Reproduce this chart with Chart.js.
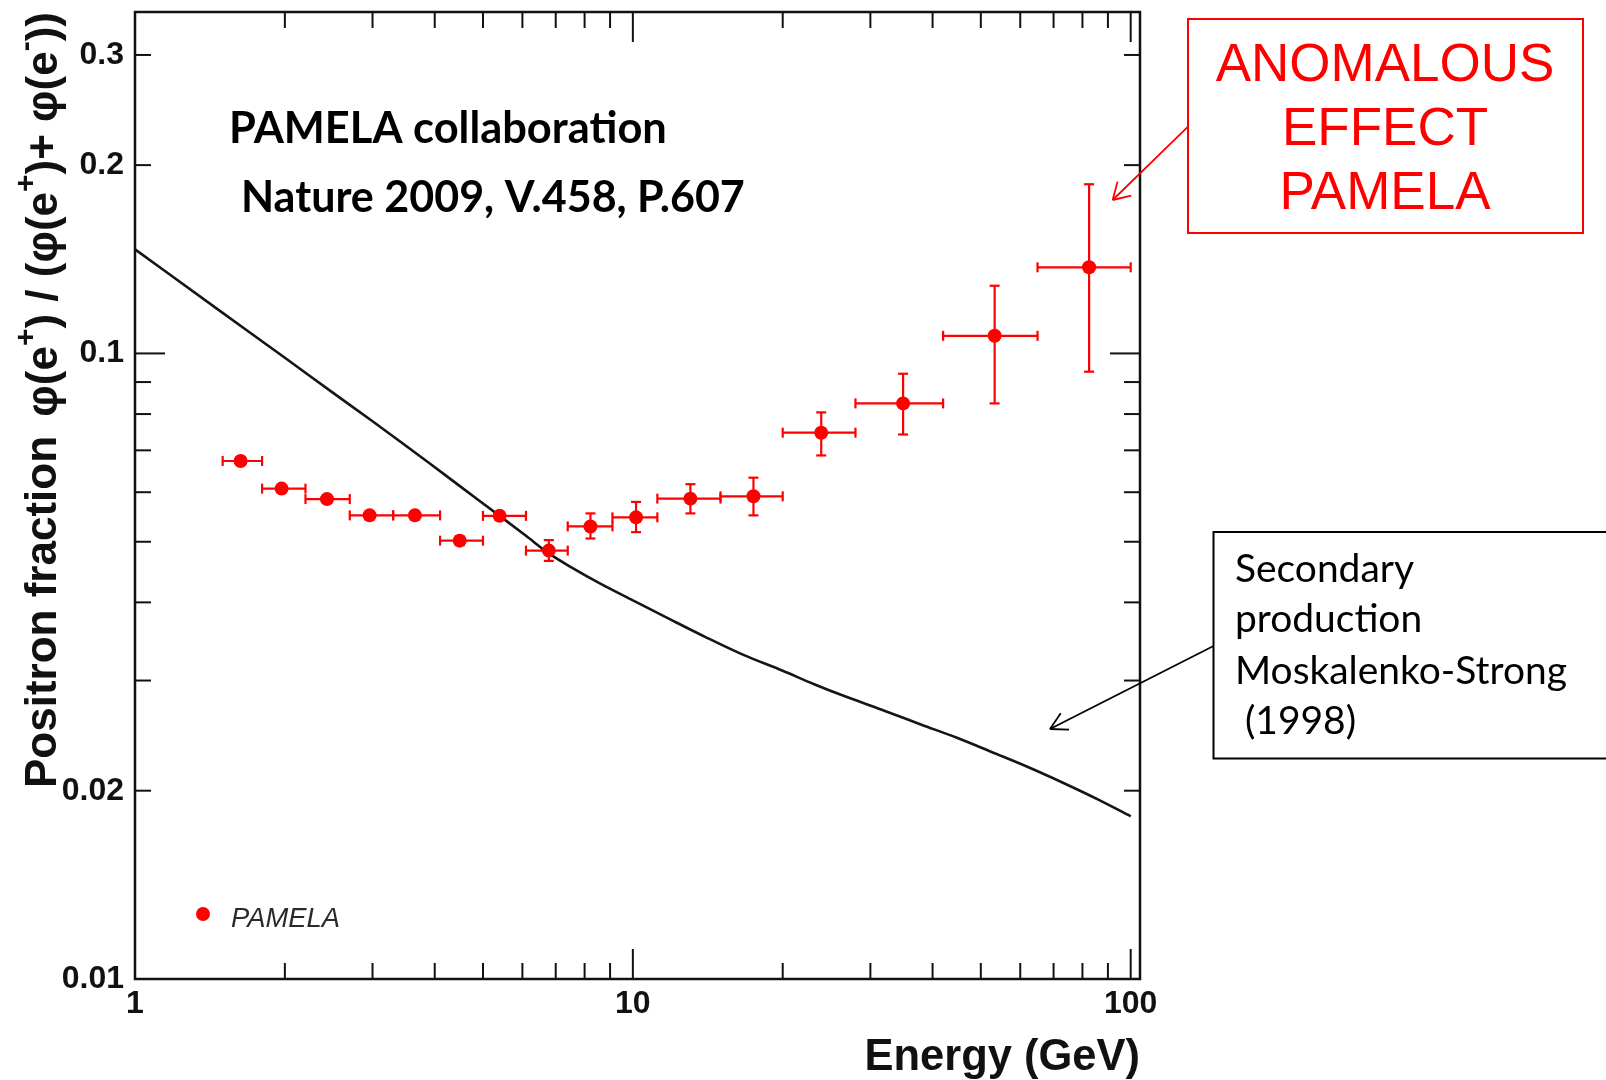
<!DOCTYPE html>
<html>
<head>
<meta charset="utf-8">
<script src="https://cdn.jsdelivr.net/npm/chart.js@4.4.1/dist/chart.umd.min.js"></script>
<style>
  html, body { margin: 0; padding: 0; background: #ffffff; }
  canvas { display: block; }
</style>
</head>
<body>
<canvas id="c" width="1606" height="1080"></canvas>
<script>
// ---------------- data ----------------
const energy    = [1.63, 1.97, 2.43, 2.96, 3.65, 4.49, 5.40, 6.78, 8.22, 10.15, 13.05, 17.47, 23.9, 34.9, 53.3, 82.5];
const fraction  = [0.0673, 0.0608, 0.0585, 0.0551, 0.0551, 0.0502, 0.0550, 0.0484, 0.0529, 0.0547, 0.0586, 0.0591, 0.0747, 0.0832, 0.1067, 0.1373];
const fracLow   = [0.0665, 0.0600, 0.0577, 0.0543, 0.0543, 0.0494, 0.0542, 0.0466, 0.0506, 0.0518, 0.0555, 0.0551, 0.0687, 0.0742, 0.0832, 0.0935];
const fracHigh  = [0.0681, 0.0616, 0.0593, 0.0559, 0.0559, 0.0510, 0.0558, 0.0503, 0.0555, 0.0579, 0.0618, 0.0633, 0.0805, 0.0928, 0.1283, 0.1864];
const binLow    = [1.5, 1.8, 2.2, 2.7, 3.3, 4.1, 5.0, 6.1, 7.4, 9.1, 11.2, 15, 20, 28, 42, 65];
const binHigh   = [1.8, 2.2, 2.7, 3.3, 4.1, 5.0, 6.1, 7.4, 9.1, 11.2, 15, 20, 28, 42, 65, 100];

const curveE = [1.0, 1.5, 2.0, 2.5, 3.0, 3.5, 3.91, 4.5, 5.4, 6.1, 6.78, 7.6, 8.585, 10, 11.94, 14, 16.63, 20, 23.13, 27, 32.18, 38, 44.77, 53, 62.33, 74, 86.7, 100];
const curveF = [0.1467, 0.1161, 0.0984, 0.0865, 0.0779, 0.0712, 0.0667, 0.0613, 0.0550, 0.0511, 0.0479, 0.0453, 0.0429, 0.0403, 0.0375, 0.0352, 0.0330, 0.0311, 0.0296, 0.0282, 0.0268, 0.0255, 0.0243, 0.0230, 0.0218, 0.0205, 0.0193, 0.0182];

const xTickLabels = [1, 10, 100];
const yTickLabels = [0.01, 0.02, 0.1, 0.2, 0.3];
const xMinorTicks = [2, 3, 4, 5, 6, 7, 8, 9, 20, 30, 40, 50, 60, 70, 80, 90];
const xMajorTicks = [10, 100];
const yMinorTicks = [0.02, 0.03, 0.04, 0.05, 0.06, 0.07, 0.08, 0.09, 0.2, 0.3];
const yMajorTicks = [0.1];

const xTitle = 'Energy (GeV)';
const yTitleA = 'Positron fraction';
const yTitleB = [['φ(e', 0], ['+', 1], [') / (φ(e', 0], ['+', 1], [')+ φ(e', 0], ['-', 1], ['))', 0]];
const legendLabel = 'PAMELA';
const noteTop = ['PAMELA collaboration', 'Nature 2009, V.458, P.607'];
const noteRed = ['ANOMALOUS', 'EFFECT', 'PAMELA'];
const noteBlack = ['Secondary', 'production', 'Moskalenko-Strong', ' (1998)'];

// ---------------- styles ----------------
const SANS = '"Liberation Sans", Arial, Helvetica, sans-serif';
const CAL = 'Lato, "Open Sans", sans-serif';
const RED = '#ff0000';

function seg(ctx, x1, y1, x2, y2) { ctx.beginPath(); ctx.moveTo(x1, y1); ctx.lineTo(x2, y2); ctx.stroke(); }
function arrow(ctx, x1, y1, x2, y2, len, ang) {
  seg(ctx, x1, y1, x2, y2);
  const a = Math.atan2(y1 - y2, x1 - x2);
  seg(ctx, x2, y2, x2 + len * Math.cos(a + ang), y2 + len * Math.sin(a + ang));
  seg(ctx, x2, y2, x2 + len * Math.cos(a - ang), y2 + len * Math.sin(a - ang));
}
function fitSize(ctx, text, prefix, family, target) {
  ctx.font = prefix + ' 100px ' + family;
  return 100 * target / ctx.measureText(text).width;
}

const errorBars = {
  id: 'errorBars',
  beforeDatasetsDraw(chart) {
    const { ctx, scales: { x, y } } = chart;
    ctx.save();
    ctx.strokeStyle = RED;
    ctx.lineWidth = 2.2;
    const cap = 5;
    for (let i = 0; i < energy.length; i++) {
      const px = x.getPixelForValue(energy[i]);
      const py = y.getPixelForValue(fraction[i]);
      const xl = x.getPixelForValue(binLow[i]);
      const xh = x.getPixelForValue(binHigh[i]);
      const yl = y.getPixelForValue(fracLow[i]);
      const yh = y.getPixelForValue(fracHigh[i]);
      seg(ctx, xl, py, xh, py);
      seg(ctx, xl, py - cap, xl, py + cap);
      seg(ctx, xh, py - cap, xh, py + cap);
      seg(ctx, px, yh, px, yl);
      seg(ctx, px - cap, yh, px + cap, yh);
      seg(ctx, px - cap, yl, px + cap, yl);
    }
    ctx.restore();
  }
};

const frameTicks = {
  id: 'frameTicks',
  afterDraw(chart) {
    const { ctx, chartArea: { left, right, top, bottom }, scales: { x, y } } = chart;
    ctx.save();
    ctx.strokeStyle = '#111';
    ctx.lineWidth = 2;
    const minorLen = 16, majorLen = 30;
    const xt = xMinorTicks.map(v => [v, minorLen]).concat(xMajorTicks.map(v => [v, majorLen]));
    xt.forEach(([v, L]) => {
      const px = x.getPixelForValue(v);
      seg(ctx, px, bottom, px, bottom - L);
      seg(ctx, px, top, px, top + L);
    });
    const yt = yMinorTicks.map(v => [v, minorLen]).concat(yMajorTicks.map(v => [v, majorLen]));
    yt.forEach(([v, L]) => {
      const py = y.getPixelForValue(v);
      seg(ctx, left, py, left + L, py);
      seg(ctx, right, py, right - L, py);
    });
    ctx.lineWidth = 2.5;
    ctx.strokeRect(left, top, right - left, bottom - top);
    ctx.restore();
  }
};

const annotations = {
  id: 'annotations',
  afterDraw(chart) {
    const { ctx } = chart;
    ctx.save();
    ctx.textBaseline = 'alphabetic';

    // x axis title
    ctx.fillStyle = '#111';
    ctx.font = 'bold 43.5px ' + SANS;
    ctx.textAlign = 'right';
    ctx.fillText(xTitle, chart.chartArea.right, 1070);

    // y axis title (rotated)
    ctx.textAlign = 'left';
    ctx.save();
    ctx.translate(56, 788);
    ctx.rotate(-Math.PI / 2);
    ctx.font = 'bold 44px ' + SANS;
    ctx.fillText(yTitleA, 0, 0);
    ctx.restore();
    const big = 'bold 44px ' + SANS, small = 'bold 30px ' + SANS;
    let total = 0;
    yTitleB.forEach(([t, s]) => { ctx.font = s ? small : big; total += ctx.measureText(t).width; });
    ctx.save();
    ctx.translate(57, 12 + total);
    ctx.rotate(-Math.PI / 2);
    let off = 0;
    yTitleB.forEach(([t, s]) => {
      ctx.font = s ? small : big;
      ctx.fillText(t, off, s ? -22 : 0);
      off += ctx.measureText(t).width;
    });
    ctx.restore();

    // collaboration note
    ctx.fillStyle = '#000';
    let fs = fitSize(ctx, noteTop[0], 'bold', CAL, 438);
    ctx.font = 'bold ' + fs + 'px ' + CAL;
    ctx.fillText(noteTop[0], 229, 142.7);
    fs = fitSize(ctx, noteTop[1], 'bold', CAL, 504);
    ctx.font = 'bold ' + fs + 'px ' + CAL;
    ctx.fillText(noteTop[1], 241, 211.7);

    // legend
    ctx.fillStyle = RED;
    ctx.beginPath(); ctx.arc(203, 914, 7, 0, Math.PI * 2); ctx.fill();
    ctx.fillStyle = '#2a2a2a';
    fs = fitSize(ctx, legendLabel, 'italic', SANS, 109);
    ctx.font = 'italic ' + fs + 'px ' + SANS;
    ctx.fillText(legendLabel, 231, 926.5);

    // red annotation box
    ctx.strokeStyle = RED; ctx.fillStyle = RED; ctx.lineWidth = 2;
    ctx.strokeRect(1188, 19, 395, 214);
    ctx.font = '53px ' + SANS;
    ctx.textAlign = 'center';
    [81, 145, 209.3].forEach((b, i) => ctx.fillText(noteRed[i], 1385, b));
    ctx.lineWidth = 1.8;
    arrow(ctx, 1188, 126.7, 1112.7, 200, 19, 0.54);

    // black annotation box
    ctx.strokeStyle = '#000'; ctx.fillStyle = '#000'; ctx.lineWidth = 2;
    ctx.strokeRect(1213.5, 532, 420, 226.5);
    ctx.textAlign = 'left';
    fs = fitSize(ctx, noteBlack[2], '', CAL, 332);
    ctx.font = fs + 'px ' + CAL;
    [581.7, 631.7, 684.3, 734].forEach((b, i) => ctx.fillText(noteBlack[i], 1235, b));
    ctx.lineWidth = 1.8;
    arrow(ctx, 1213.5, 646, 1050, 729, 19, 0.5);

    ctx.restore();
  }
};

const tickFont = { family: SANS, size: 32, weight: 'bold' };

new Chart(document.getElementById('c'), {
  type: 'scatter',
  data: {
    datasets: [
      {
        type: 'line',
        label: 'Secondary production Moskalenko-Strong (1998)',
        data: curveE.map((e, i) => ({ x: e, y: curveF[i] })),
        borderColor: '#151515',
        borderWidth: 2.6,
        pointRadius: 0,
        fill: false,
        cubicInterpolationMode: 'monotone',
        order: 2
      },
      {
        type: 'scatter',
        label: 'PAMELA',
        data: energy.map((e, i) => ({ x: e, y: fraction[i] })),
        backgroundColor: RED,
        borderColor: RED,
        borderWidth: 0,
        pointRadius: 7,
        order: 1
      }
    ]
  },
  options: {
    responsive: false,
    animation: false,
    devicePixelRatio: 1,
    events: [],
    layout: { padding: { left: 0, right: 466, top: 12, bottom: 0 } },
    plugins: { legend: { display: false }, tooltip: { enabled: false }, title: { display: false } },
    scales: {
      x: {
        type: 'logarithmic', min: 1, max: 104.4, position: 'bottom',
        afterBuildTicks: s => { s.ticks = xTickLabels.map(v => ({ value: v })); },
        afterFit: s => { s.height = 101; s.paddingLeft = 0; s.paddingRight = 0; },
        ticks: { autoSkip: false, maxRotation: 0, minRotation: 0, padding: 6, color: '#111', font: tickFont, callback: v => String(v) },
        grid: { display: false, drawTicks: false },
        border: { display: false },
        title: { display: false }
      },
      y: {
        type: 'logarithmic', min: 0.01, max: 0.3514, position: 'left',
        afterBuildTicks: s => { s.ticks = yTickLabels.map(v => ({ value: v })); },
        afterFit: s => { s.width = 135; s.paddingTop = 0; s.paddingBottom = 0; },
        ticks: { autoSkip: false, padding: 11, color: '#111', font: tickFont, callback: v => String(v) },
        grid: { display: false, drawTicks: false },
        border: { display: false },
        title: { display: false }
      }
    }
  },
  plugins: [errorBars, frameTicks, annotations]
});
</script>
</body>
</html>
